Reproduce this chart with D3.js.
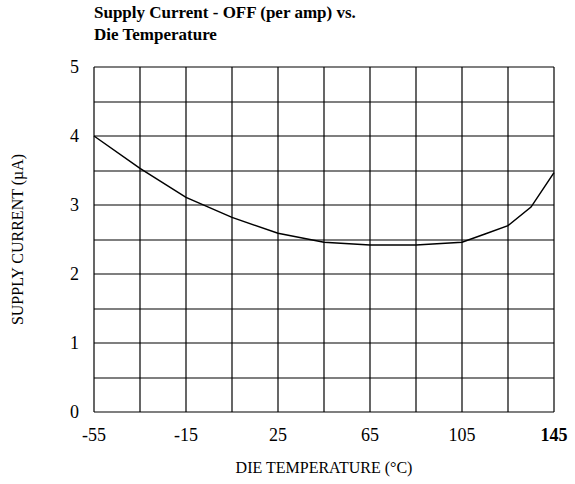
<!DOCTYPE html>
<html>
<head>
<meta charset="utf-8">
<script src="https://cdn.jsdelivr.net/npm/d3@7"></script>
<style>
  html, body { margin: 0; padding: 0; background: #fff; }
  svg { display: block; font-family: "Liberation Serif", "Times New Roman", serif; }
</style>
</head>
<body>
<svg id="chart" width="575" height="484"></svg>
<script>
// Die temperature (°C) and supply current per amplifier (µA)
const temperatures = [-55, -35, -15, 5, 25, 45, 65, 85, 105, 115, 125, 135, 145];
const supplyCurrent = [4.0, 3.53, 3.11, 2.82, 2.59, 2.46, 2.42, 2.42, 2.46, 2.58, 2.70, 2.97, 3.47];

const xTickLabels = [-55, -15, 25, 65, 105, 145];
const yTickLabels = [0, 1, 2, 3, 4, 5];
const xGrid = d3.range(-55, 146, 20);
const yGrid = d3.range(0, 5.01, 0.5);

const titleLines = ["Supply Current - OFF (per amp) vs.", "Die Temperature"];
const xTitle = "DIE TEMPERATURE (°C)";
const yTitle = "SUPPLY CURRENT (µA)";

const svg = d3.select("#chart");
const plot = { left: 94, right: 554, top: 67, bottom: 412 };

const x = d3.scaleLinear().domain([-55, 145]).range([plot.left, plot.right]);
const y = d3.scaleLinear().domain([0, 5]).range([plot.bottom, plot.top]);

// Title
svg.append("g").selectAll("text").data(titleLines).join("text")
  .attr("x", plot.left)
  .attr("y", (d, i) => 18 + i * 22)
  .attr("font-size", 17)
  .attr("font-weight", "bold")
  .attr("fill", "#000")
  .text(d => d);

// Grid
const grid = svg.append("g").attr("stroke", "#000").attr("stroke-width", 1.2);
grid.selectAll("line.v").data(xGrid).join("line").attr("class", "v")
  .attr("x1", d => Math.round(x(d))).attr("x2", d => Math.round(x(d)))
  .attr("y1", plot.top).attr("y2", plot.bottom);
grid.selectAll("line.h").data(yGrid).join("line").attr("class", "h")
  .attr("y1", d => Math.round(y(d))).attr("y2", d => Math.round(y(d)))
  .attr("x1", plot.left).attr("x2", plot.right);

// X tick labels
svg.append("g").selectAll("text").data(xTickLabels).join("text")
  .attr("x", d => x(d))
  .attr("y", 441)
  .attr("text-anchor", "middle")
  .attr("font-size", 18)
  .attr("font-weight", d => d === 145 ? "bold" : "normal")
  .text(d => d);

// Y tick labels
svg.append("g").selectAll("text").data(yTickLabels).join("text")
  .attr("x", 79)
  .attr("y", d => y(d) + 6)
  .attr("text-anchor", "end")
  .attr("font-size", 18)
  .text(d => d);

// Axis titles
svg.append("text")
  .attr("x", (plot.left + plot.right) / 2)
  .attr("y", 473)
  .attr("text-anchor", "middle")
  .attr("font-size", 16)
  .text(xTitle);

svg.append("text")
  .attr("transform", `translate(23,${(plot.top + plot.bottom) / 2}) rotate(-90)`)
  .attr("text-anchor", "middle")
  .attr("font-size", 16)
  .text(yTitle);

// Curve
const line = d3.line().x(d => x(d[0])).y(d => y(d[1]));
svg.append("path")
  .datum(d3.zip(temperatures, supplyCurrent))
  .attr("d", line)
  .attr("fill", "none")
  .attr("stroke", "#000")
  .attr("stroke-width", 1.5);
</script>
</body>
</html>
